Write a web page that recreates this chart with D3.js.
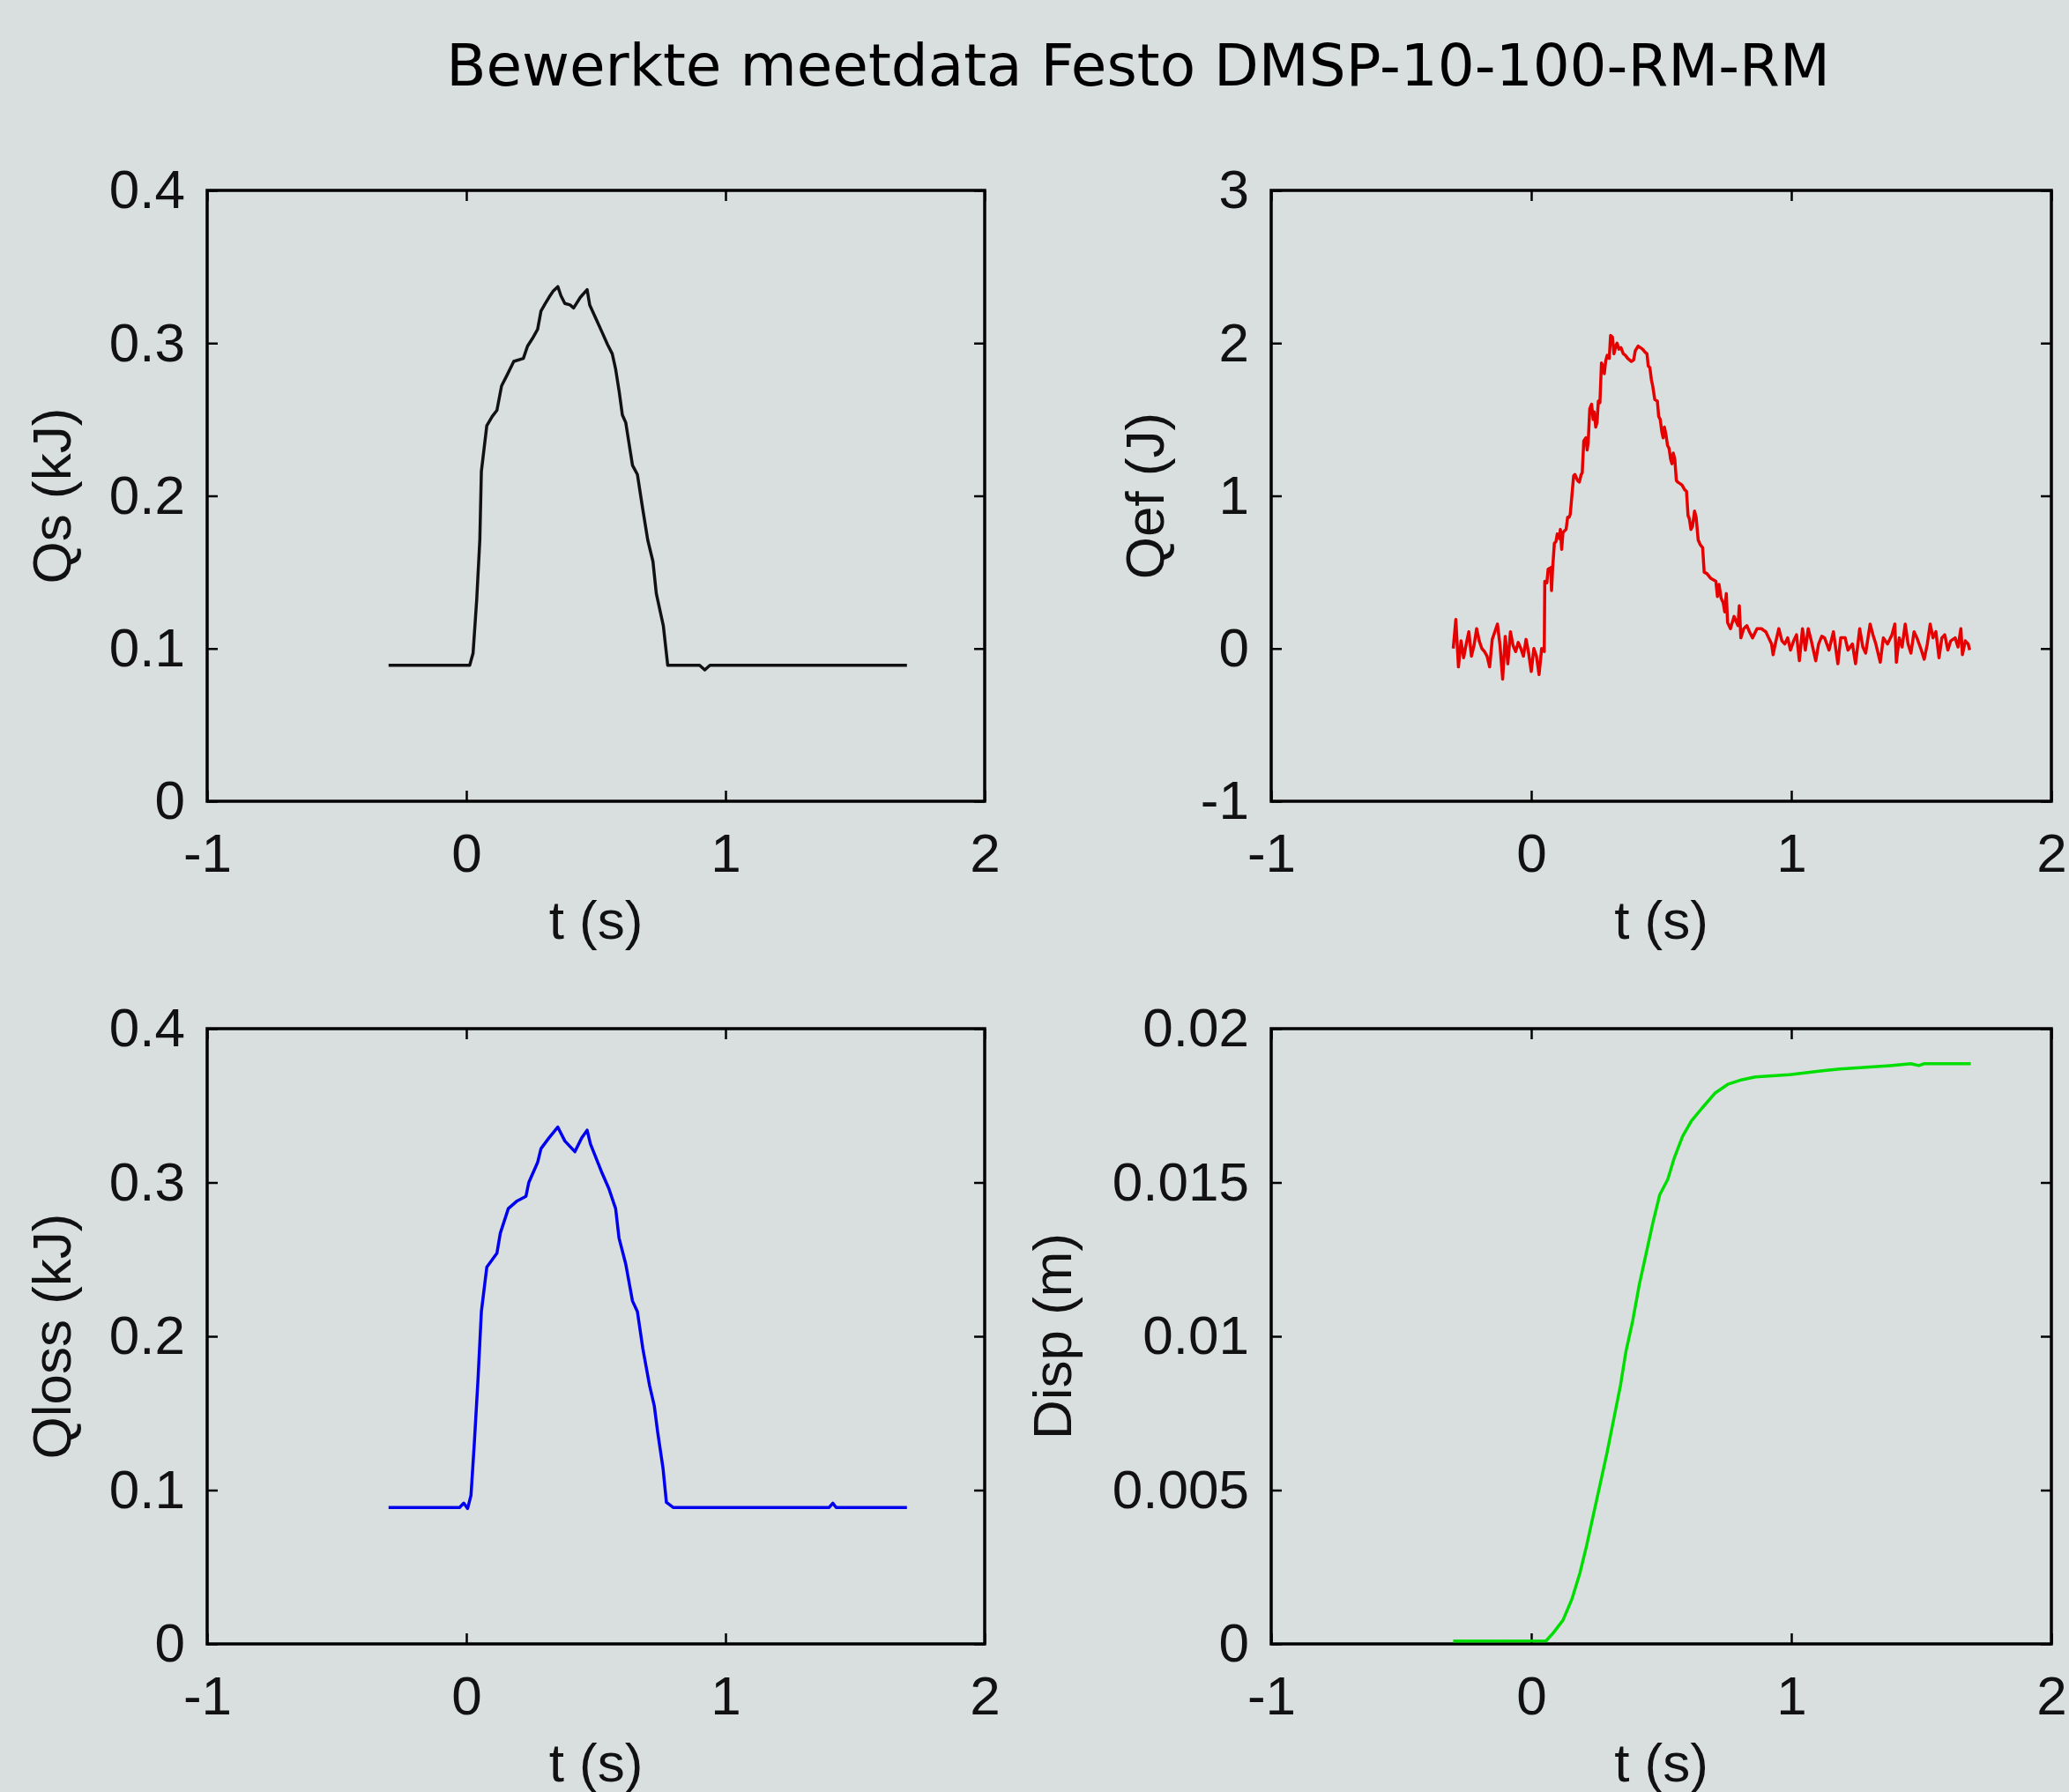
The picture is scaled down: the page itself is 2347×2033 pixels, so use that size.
<!DOCTYPE html>
<html>
<head>
<meta charset="utf-8">
<script src="https://cdn.jsdelivr.net/npm/d3@7"></script>
<style>
  html, body { margin: 0; padding: 0; background: #d9dfdf; }
  svg { display: block; }
</style>
</head>
<body>
<div id="chart"></div>
<script>
// values, [t (s), value]
const timeTicks = [-1, 0, 1, 2]
const qsTicks = [0, 0.1, 0.2, 0.3, 0.4]
const qefTicks = [-1, 0, 1, 2, 3]
const qlossTicks = [0, 0.1, 0.2, 0.3, 0.4]
const dispTicks = [0, 0.005, 0.01, 0.015, 0.02]

const qsData = [
  [-0.30, 0.089], [0.013, 0.089], [0.026, 0.097], [0.04, 0.132], [0.052, 0.171], [0.058, 0.216],
  [0.079, 0.246], [0.10, 0.252], [0.118, 0.256], [0.136, 0.272], [0.157, 0.279], [0.183, 0.288],
  [0.22, 0.29], [0.236, 0.298], [0.255, 0.303], [0.275, 0.309], [0.288, 0.321], [0.305, 0.326],
  [0.319, 0.33], [0.335, 0.334], [0.353, 0.337], [0.365, 0.331], [0.38, 0.326], [0.40, 0.325],
  [0.414, 0.323], [0.44, 0.33], [0.466, 0.335], [0.476, 0.325], [0.50, 0.316], [0.524, 0.307],
  [0.545, 0.299], [0.563, 0.293], [0.576, 0.283], [0.59, 0.268], [0.602, 0.253], [0.615, 0.248],
  [0.628, 0.234], [0.641, 0.22], [0.66, 0.214], [0.68, 0.192], [0.70, 0.171], [0.72, 0.157],
  [0.733, 0.136], [0.76, 0.115], [0.777, 0.089], [0.90, 0.089], [0.92, 0.086], [0.94, 0.089],
  [1.70, 0.089]
]

const qefData = [
  [-0.30, 0.00], [-0.29, 0.19], [-0.28, -0.12], [-0.27, 0.05], [-0.26, -0.06], [-0.25, 0.03],
  [-0.24, 0.11], [-0.23, -0.05], [-0.22, 0.02], [-0.21, 0.13], [-0.20, 0.05], [-0.19, 0.00],
  [-0.18, -0.02], [-0.17, -0.05], [-0.16, -0.12], [-0.15, 0.06], [-0.14, 0.11], [-0.13, 0.16],
  [-0.12, 0.02], [-0.11, -0.20], [-0.10, 0.08], [-0.09, -0.10], [-0.08, 0.11], [-0.07, 0.02],
  [-0.06, -0.02], [-0.05, 0.04], [-0.04, 0.00], [-0.03, -0.05], [-0.02, 0.06], [-0.01, -0.03],
  [0.00, -0.15], [0.01, 0.00], [0.02, -0.05], [0.03, -0.17], [0.04, 0.00], [0.05, -0.02],
  [0.052, 0.44], [0.06, 0.43], [0.065, 0.52], [0.075, 0.53], [0.078, 0.38], [0.082, 0.52],
  [0.089, 0.69], [0.095, 0.70], [0.10, 0.75], [0.108, 0.72], [0.112, 0.78], [0.117, 0.65],
  [0.122, 0.76], [0.134, 0.78], [0.14, 0.86], [0.146, 0.86], [0.15, 0.88], [0.163, 1.13],
  [0.168, 1.14], [0.178, 1.10], [0.185, 1.09], [0.192, 1.14], [0.196, 1.15], [0.202, 1.36],
  [0.21, 1.38], [0.215, 1.30], [0.219, 1.35], [0.225, 1.57], [0.232, 1.60], [0.238, 1.50],
  [0.242, 1.55], [0.248, 1.45], [0.253, 1.48], [0.258, 1.62], [0.264, 1.61], [0.27, 1.87],
  [0.276, 1.85], [0.281, 1.80], [0.286, 1.88], [0.292, 1.92], [0.30, 1.90], [0.305, 2.05],
  [0.312, 2.04], [0.318, 1.93], [0.325, 1.98], [0.33, 2.00], [0.337, 1.96], [0.345, 1.97],
  [0.354, 1.93], [0.362, 1.92], [0.371, 1.90], [0.385, 1.88], [0.394, 1.89], [0.40, 1.95],
  [0.411, 1.98], [0.42, 1.97], [0.428, 1.96], [0.438, 1.94], [0.445, 1.93], [0.45, 1.85],
  [0.456, 1.84], [0.462, 1.76], [0.467, 1.72], [0.475, 1.63], [0.485, 1.62], [0.49, 1.52],
  [0.496, 1.50], [0.502, 1.42], [0.507, 1.38], [0.512, 1.45], [0.518, 1.40], [0.524, 1.33],
  [0.53, 1.31], [0.536, 1.24], [0.541, 1.21], [0.546, 1.28], [0.552, 1.24], [0.558, 1.10],
  [0.563, 1.09], [0.572, 1.08], [0.58, 1.07], [0.59, 1.04], [0.597, 1.03], [0.603, 0.87],
  [0.608, 0.85], [0.614, 0.78], [0.62, 0.80], [0.628, 0.90], [0.634, 0.86], [0.642, 0.71],
  [0.65, 0.68], [0.659, 0.66], [0.665, 0.50], [0.676, 0.49], [0.69, 0.46], [0.70, 0.45],
  [0.71, 0.44], [0.716, 0.34], [0.722, 0.42], [0.73, 0.33], [0.738, 0.30], [0.744, 0.24],
  [0.75, 0.36], [0.755, 0.17], [0.766, 0.13], [0.78, 0.21], [0.795, 0.15], [0.80, 0.28],
  [0.806, 0.07], [0.817, 0.13], [0.829, 0.15], [0.839, 0.11], [0.851, 0.07], [0.868, 0.13],
  [0.885, 0.13], [0.902, 0.11], [0.913, 0.07], [0.924, 0.03], [0.93, -0.04], [0.941, 0.05],
  [0.952, 0.13], [0.964, 0.05], [0.975, 0.03], [0.986, 0.07], [0.997, -0.01], [1.009, 0.05],
  [1.02, 0.09], [1.031, -0.08], [1.043, 0.13], [1.054, -0.01], [1.065, 0.13], [1.077, 0.05],
  [1.094, -0.08], [1.105, 0.03], [1.117, 0.08], [1.128, 0.07], [1.145, -0.01], [1.162, 0.11],
  [1.179, -0.10], [1.19, 0.07], [1.207, 0.07], [1.218, -0.01], [1.235, 0.03], [1.247, -0.10],
  [1.263, 0.13], [1.275, 0.01], [1.286, -0.03], [1.303, 0.16], [1.314, 0.09], [1.325, 0.03],
  [1.342, -0.09], [1.354, 0.07], [1.37, 0.03], [1.387, 0.09], [1.398, 0.16], [1.404, -0.09],
  [1.415, 0.07], [1.426, 0.01], [1.438, 0.16], [1.449, 0.03], [1.46, -0.03], [1.472, 0.11],
  [1.483, 0.07], [1.50, -0.01], [1.511, -0.07], [1.523, 0.03], [1.534, 0.16], [1.545, 0.07],
  [1.556, 0.11], [1.568, -0.06], [1.579, 0.07], [1.59, 0.09], [1.602, -0.01], [1.613, 0.05],
  [1.63, 0.07], [1.641, 0.01], [1.652, 0.13], [1.658, -0.04], [1.669, 0.05], [1.68, 0.03],
  [1.686, -0.01]
]

const qlossData = [
  [-0.30, 0.0887], [-0.026, 0.0887], [-0.01, 0.0915], [0.005, 0.088], [0.018, 0.0966], [0.031, 0.131],
  [0.045, 0.172], [0.058, 0.216], [0.079, 0.245], [0.118, 0.254], [0.131, 0.267], [0.162, 0.283],
  [0.196, 0.288], [0.23, 0.291], [0.241, 0.30], [0.275, 0.313], [0.288, 0.322], [0.319, 0.329],
  [0.353, 0.336], [0.38, 0.327], [0.419, 0.32], [0.445, 0.329], [0.466, 0.334], [0.479, 0.325],
  [0.524, 0.306], [0.55, 0.296], [0.576, 0.283], [0.589, 0.264], [0.615, 0.247], [0.641, 0.223],
  [0.66, 0.216], [0.681, 0.192], [0.707, 0.168], [0.725, 0.155], [0.738, 0.138], [0.759, 0.114],
  [0.772, 0.092], [0.798, 0.0887], [1.40, 0.0887], [1.414, 0.0915], [1.427, 0.0887], [1.70, 0.0887]
]

const dispData = [
  [-0.30, 0.00009], [0.057, 0.0001], [0.083, 0.00034], [0.122, 0.00077], [0.156, 0.00145],
  [0.187, 0.0023], [0.213, 0.0032], [0.239, 0.0042], [0.265, 0.0052], [0.291, 0.0062],
  [0.317, 0.0073], [0.343, 0.0084], [0.364, 0.0095], [0.39, 0.0105], [0.416, 0.0117],
  [0.442, 0.0127], [0.468, 0.0137], [0.494, 0.0146], [0.525, 0.0151], [0.55, 0.0158],
  [0.582, 0.0165], [0.616, 0.017], [0.655, 0.0174], [0.706, 0.0179], [0.758, 0.0182],
  [0.81, 0.01834], [0.862, 0.01843], [0.99, 0.0185], [1.12, 0.01863], [1.187, 0.01869],
  [1.38, 0.0188], [1.46, 0.01886], [1.49, 0.0188], [1.51, 0.01886], [1.69, 0.01886]
]

const W = 2347, H = 2033
const tickFont = "'Liberation Sans', Arial, sans-serif"

const panels = [
  { data: qsData, ticks: qsTicks, label: "Qs (kJ)", color: "#111111",
    x0: 235, x1: 1117, y0: 216, y1: 909, labelX: 80 },
  { data: qefData, ticks: qefTicks, label: "Qef (J)", color: "#e60000",
    x0: 1442, x1: 2327, y0: 216, y1: 909, labelX: 1320 },
  { data: qlossData, ticks: qlossTicks, label: "Qloss (kJ)", color: "#0000ee",
    x0: 235, x1: 1117, y0: 1167, y1: 1865, labelX: 80 },
  { data: dispData, ticks: dispTicks, label: "Disp (m)", color: "#00dd00",
    x0: 1442, x1: 2327, y0: 1167, y1: 1865, labelX: 1215 }
]

const svg = d3.select("#chart")
  .append("svg")
  .attr("width", W)
  .attr("height", H)

svg.append("rect")
  .attr("width", W)
  .attr("height", H)
  .attr("fill", "#d9dfdf")

svg.append("text")
  .attr("x", 1291)
  .attr("y", 97)
  .attr("text-anchor", "middle")
  .attr("font-family", "'DejaVu Sans', Verdana, sans-serif")
  .attr("font-size", 66)
  .attr("fill", "#000")
  .text("Bewerkte meetdata Festo DMSP-10-100-RM-RM")

function styleAxis(g) {
  g.attr("font-family", tickFont).attr("font-size", 62)
  g.select(".domain").remove()
  g.selectAll(".tick line").attr("stroke", "#000").attr("stroke-width", 2.5)
  g.selectAll(".tick text").attr("fill", "#111")
}

function drawPanel(p) {
  const x = d3.scaleLinear()
    .domain([timeTicks[0], timeTicks[timeTicks.length - 1]])
    .range([p.x0, p.x1])
  const y = d3.scaleLinear()
    .domain([p.ticks[0], p.ticks[p.ticks.length - 1]])
    .range([p.y1, p.y0])

  const g = svg.append("g")

  // inward ticks on all four sides, like the matlab box
  g.append("g")
    .attr("transform", `translate(0,${p.y1})`)
    .call(d3.axisBottom(x).tickValues(timeTicks).tickSize(-12).tickPadding(36).tickFormat(String))
    .call(styleAxis)
  g.append("g")
    .attr("transform", `translate(0,${p.y0})`)
    .call(d3.axisTop(x).tickValues(timeTicks).tickSize(-12).tickFormat(""))
    .call(styleAxis)
  g.append("g")
    .attr("transform", `translate(${p.x0},0)`)
    .call(d3.axisLeft(y).tickValues(p.ticks).tickSize(-12).tickPadding(25).tickFormat(String))
    .call(styleAxis)
  g.append("g")
    .attr("transform", `translate(${p.x1},0)`)
    .call(d3.axisRight(y).tickValues(p.ticks).tickSize(-12).tickFormat(""))
    .call(styleAxis)

  g.append("rect")
    .attr("x", p.x0)
    .attr("y", p.y0)
    .attr("width", p.x1 - p.x0)
    .attr("height", p.y1 - p.y0)
    .attr("fill", "none")
    .attr("stroke", "#000")
    .attr("stroke-width", 3.5)

  const line = d3.line()
    .x(d => x(d[0]))
    .y(d => y(d[1]))

  g.append("path")
    .datum(p.data)
    .attr("d", line)
    .attr("fill", "none")
    .attr("stroke", p.color)
    .attr("stroke-width", 3.5)
    .attr("stroke-linejoin", "round")

  // axis titles
  g.append("text")
    .attr("x", (p.x0 + p.x1) / 2)
    .attr("y", p.y1 + 156)
    .attr("text-anchor", "middle")
    .attr("font-family", tickFont)
    .attr("font-size", 62)
    .attr("fill", "#111")
    .text("t (s)")

  g.append("text")
    .attr("transform", `translate(${p.labelX},${(p.y0 + p.y1) / 2}) rotate(-90)`)
    .attr("text-anchor", "middle")
    .attr("font-family", tickFont)
    .attr("font-size", 62)
    .attr("fill", "#111")
    .text(p.label)
}

panels.forEach(drawPanel)
</script>
</body>
</html>
